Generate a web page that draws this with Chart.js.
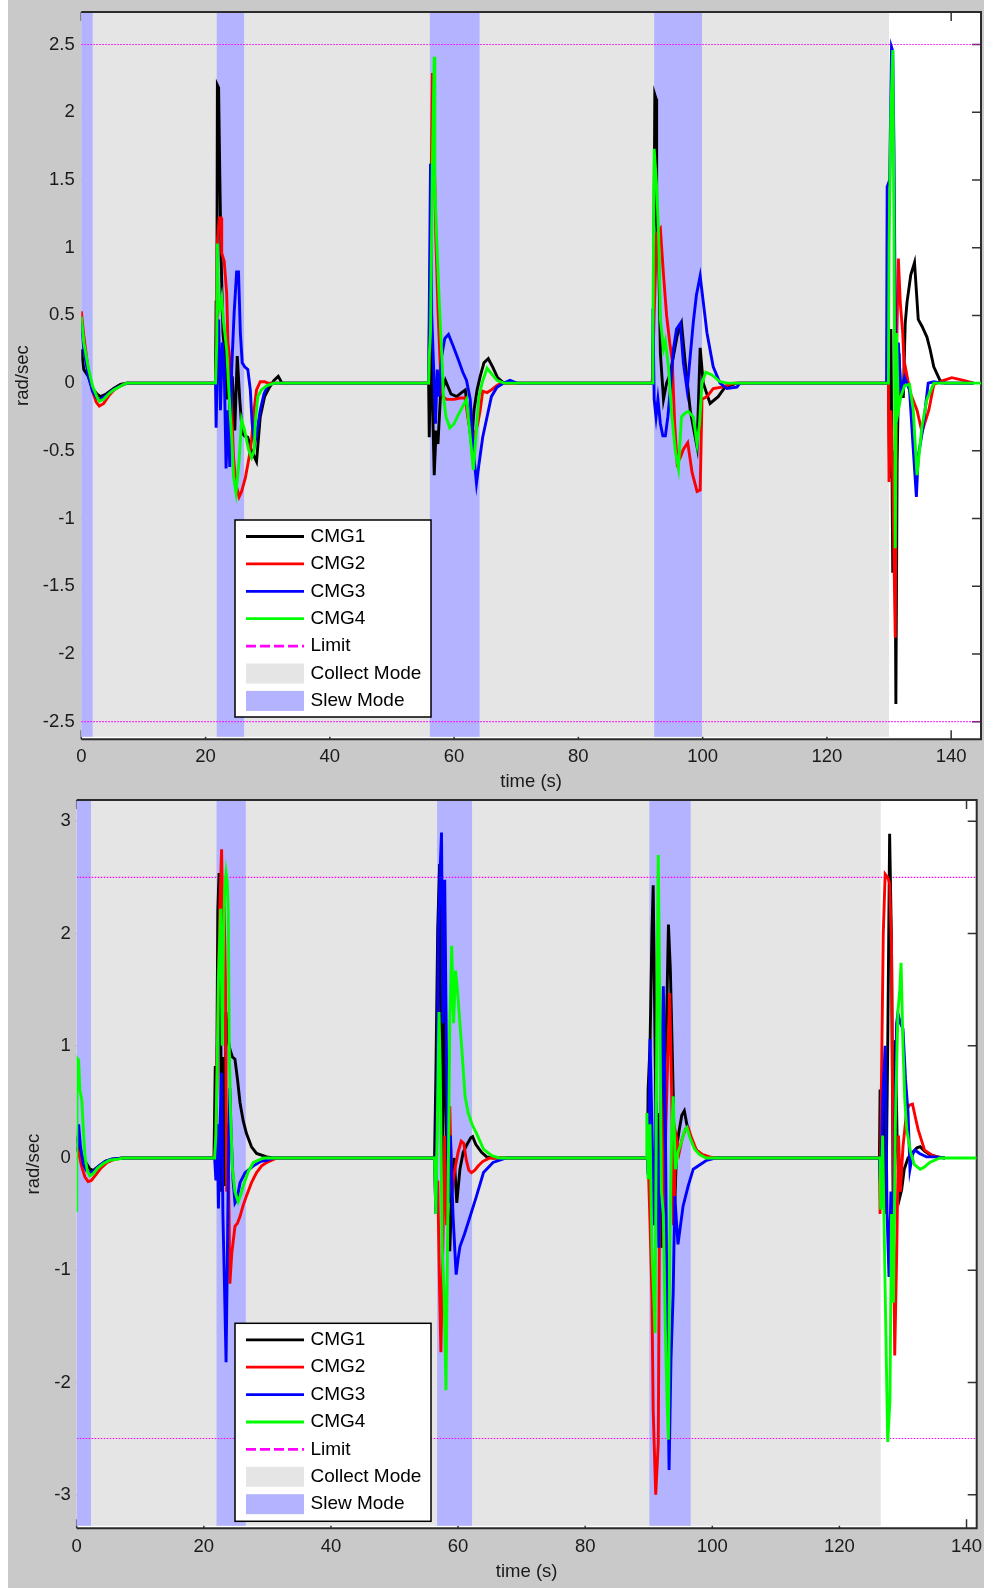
<!DOCTYPE html>
<html>
<head>
<meta charset="utf-8">
<script src="https://cdn.jsdelivr.net/npm/chart.js@4.4.1/dist/chart.umd.min.js"></script>
<style>
  html, body { margin: 0; padding: 0; background: #fff; }
  #fig { position: absolute; left: 8px; top: 0; width: 976px; height: 1588px; background: #c9c9c9; }
  #topChart { position: absolute; left: 0; top: 0; }
  #bottomChart { position: absolute; left: 0; top: 796px; }
</style>
</head>
<body>
<div id="fig">
  <canvas id="topChart" width="976" height="796"></canvas>
  <canvas id="bottomChart" width="976" height="792"></canvas>
</div>
<script>
// gimbal rates, [time s, rad/sec] pairs
const TOP_CMG1 = [
  [0,0.25],[0.4,0.1],[1.1,0.05],[1.8,-0.04],[2.5,-0.08],[3.1,-0.1],[4.0,-0.08],[5.2,-0.04],[6.3,-0.01],[7.3,0],
  [21.6,0],[21.7,0.61],[21.8,0.25],[21.9,2.2],[22.1,2.18],[22.3,1.5],[22.5,0.93],[22.8,0.37],[23.1,0.22],[23.4,-0.12],[23.7,0.1],[24.0,-0.3],[24.3,0.05],[24.7,-0.35],[25.1,0.2],[25.5,-0.12],[25.9,-0.37],[26.3,-0.39],[26.8,-0.4],[27.4,-0.5],[28.2,-0.58],[28.8,-0.25],[29.5,-0.1],[30.3,-0.03],[31.0,0.02],[31.7,0.05],[32.3,0],
  [55.9,0],[56.0,-0.4],[56.3,0.37],[56.5,-0.1],[56.8,-0.68],[57.1,-0.35],[57.4,-0.45],[57.8,-0.1],[58.6,0.02],[59.5,-0.08],[60.4,-0.1],[61.2,-0.07],[61.8,-0.05],[62.3,-0.25],[62.8,-0.45],[63.2,-0.2],[63.7,-0.05],[64.2,0.05],[64.8,0.15],[65.5,0.18],[66.2,0.12],[67.0,0.04],[68.0,0],
  [91.9,0],[92.1,0.5],[92.3,2.13],[92.5,2.1],[92.6,1.23],[92.9,1.0],[93.2,0.22],[93.7,-0.12],[94.2,0],[94.8,0.07],[95.3,0.2],[95.9,0.35],[96.6,0.44],[97.2,0.15],[98.0,-0.2],[98.6,-0.35],[99.1,-0.47],[99.6,0.26],[100.1,0],[101.2,-0.15],[102.5,-0.1],[103.6,-0.03],[105.5,0],
  [129.9,0],[130.1,-0.7],[130.3,0.4],[130.6,-1.4],[130.9,-0.5],[131.1,-2.37],[131.3,-0.6],[131.6,0.22],[131.9,-0.1],[132.3,-0.1],[132.6,0.44],[132.9,0.6],[133.5,0.8],[134.1,0.89],[134.7,0.47],[135.3,0.42],[136.1,0.34],[136.6,0.25],[137.2,0.12],[138.2,0.02],[139.0,0],[143.6,0],
];
const TOP_CMG2 = [
  [0,0.53],[0.4,0.35],[1.1,0.1],[1.8,-0.06],[2.4,-0.14],[2.9,-0.17],[3.6,-0.15],[4.5,-0.09],[5.3,-0.05],[6.3,-0.02],[7.3,0],
  [21.6,0],[21.8,0.3],[21.9,1.05],[22.2,1.22],[22.5,1.22],[22.6,0.96],[23.0,0.9],[23.4,0.66],[23.6,0.3],[23.9,0.18],[24.2,-0.2],[24.5,-0.55],[24.9,-0.75],[25.4,-0.84],[25.8,-0.8],[26.4,-0.7],[27.0,-0.55],[27.4,-0.42],[27.8,-0.2],[28.2,-0.05],[28.8,0.01],[29.5,0.01],[30.0,0],
  [55.9,0],[56.2,1.0],[56.5,2.29],[56.7,1.94],[57.05,1.09],[57.4,0.54],[57.8,0.1],[58.2,-0.1],[58.8,-0.12],[60.0,-0.12],[61.0,-0.11],[61.8,-0.11],[62.2,-0.25],[62.6,-0.35],[63.2,-0.4],[63.8,-0.3],[64.2,-0.2],[64.6,-0.06],[65.3,-0.07],[66.0,-0.05],[66.8,-0.02],[67.5,0],
  [91.9,0],[92.2,0.5],[92.6,1.1],[93.2,1.14],[93.7,0.8],[94.2,0.5],[94.7,0.3],[95.1,0.17],[95.5,-0.3],[95.9,-0.59],[96.4,-0.55],[96.9,-0.49],[97.6,-0.44],[98.3,-0.66],[99.1,-0.8],[99.6,-0.79],[99.9,-0.12],[100.7,-0.1],[101.7,-0.04],[103.1,-0.03],[105.0,0],
  [129.9,0],[130.0,-0.73],[130.3,-0.2],[130.6,-0.7],[131.0,-1.88],[131.2,0.2],[131.5,0.92],[131.8,0.6],[132.2,0.37],[132.5,0.05],[132.7,0.1],[133.4,-0.07],[134.5,-0.2],[135.3,-0.36],[136.4,-0.2],[137.2,-0.01],[138.8,0.02],[140.1,0.04],[142.0,0.02],[143.6,0],
];
const TOP_CMG3 = [
  [0,0.45],[0.4,0.25],[1.1,0.06],[1.8,-0.06],[2.5,-0.11],[3.0,-0.12],[3.8,-0.1],[4.8,-0.06],[5.8,-0.03],[7.3,0],
  [21.6,0],[21.7,-0.33],[21.9,0.2],[22.1,0.47],[22.4,-0.2],[22.7,0.3],[23.0,0.12],[23.3,-0.63],[23.6,-0.2],[23.9,-0.62],[24.2,0.1],[24.6,0.52],[25.0,0.82],[25.3,0.82],[25.6,0.37],[25.9,0.15],[26.3,0.12],[26.8,0.1],[27.2,-0.05],[27.5,-0.3],[27.9,-0.45],[28.3,-0.35],[28.8,-0.2],[29.4,-0.08],[30.0,-0.02],[30.9,0],
  [55.9,0],[56.0,0.53],[56.2,1.62],[56.4,0.5],[56.7,0.12],[57.0,-0.3],[57.3,0.1],[57.6,-0.1],[58.0,0.2],[58.5,0.33],[59.1,0.36],[59.8,0.28],[60.7,0.17],[61.4,0.08],[62.0,0.02],[62.6,-0.12],[63.0,-0.45],[63.6,-0.74],[64.0,-0.6],[64.6,-0.4],[65.3,-0.25],[66.0,-0.1],[66.9,-0.03],[68.0,0],[69.0,0.02],[70.1,0],
  [91.9,0],[92.0,0.55],[92.2,-0.12],[92.5,-0.25],[92.8,-0.12],[93.2,-0.3],[93.6,-0.39],[94.0,-0.39],[94.4,-0.25],[94.8,-0.05],[95.3,0.25],[95.8,0.4],[96.4,0.44],[96.9,0.15],[97.5,-0.05],[98.0,0.2],[98.5,0.45],[99.0,0.65],[99.6,0.79],[100.1,0.6],[100.7,0.37],[101.7,0.12],[102.8,0],[103.9,-0.04],[105.5,-0.03],[106.0,0],
  [129.6,0],[129.7,1.45],[130.1,1.5],[130.4,2.48],[130.6,2.45],[130.8,1.72],[131.0,0.5],[131.2,-0.3],[131.5,0.3],[131.9,-0.07],[132.5,0.04],[133.3,-0.05],[133.9,-0.49],[134.4,-0.84],[134.7,-0.54],[135.5,-0.32],[136.3,0],[137.2,0.01],[138.5,0],[143.6,0],
];
const TOP_CMG4 = [
  [0,0.49],[0.4,0.3],[1.1,0.12],[1.8,-0.02],[2.5,-0.1],[2.9,-0.135],[3.6,-0.12],[4.4,-0.08],[5.2,-0.05],[6.0,-0.03],[6.8,-0.01],[7.3,0],
  [21.6,0],[21.8,0.3],[21.9,1.03],[22.05,0.61],[22.3,0.55],[22.6,0.63],[22.9,0.45],[23.4,0.25],[23.8,-0.1],[24.2,-0.4],[24.5,-0.69],[24.9,-0.81],[25.4,-0.57],[25.8,-0.27],[26.3,-0.35],[26.9,-0.49],[27.4,-0.55],[27.8,-0.5],[28.0,-0.3],[28.4,-0.1],[29.0,-0.05],[29.8,-0.02],[31.0,0],
  [55.9,0],[56.0,0.2],[56.2,0.37],[56.5,1.6],[56.8,2.41],[56.9,1.45],[57.2,1.07],[57.6,0.61],[58.0,0.22],[58.3,-0.1],[58.7,-0.25],[59.3,-0.33],[60.0,-0.3],[60.6,-0.24],[61.3,-0.18],[62.0,-0.12],[62.5,-0.35],[63.1,-0.64],[63.5,-0.4],[64.0,-0.1],[64.5,0],[65.3,0.11],[66.0,0.07],[66.9,0.02],[68.0,0],
  [91.9,0],[92.0,0.4],[92.2,1.73],[92.6,1.45],[92.9,1.11],[93.2,0.47],[93.7,0.25],[94.0,0.31],[94.5,0.12],[95.0,-0.22],[95.6,-0.5],[96.1,-0.63],[96.6,-0.25],[97.2,-0.22],[97.7,-0.21],[98.5,-0.25],[99.1,-0.45],[99.5,-0.3],[99.9,0],[100.5,0.08],[101.5,0.06],[102.8,0.01],[104.0,0],
  [129.9,0],[130.0,1.0],[130.3,2.0],[130.6,2.46],[130.8,1.2],[131.0,-1.22],[131.2,0.37],[131.5,-0.2],[131.9,-0.1],[132.5,-0.02],[133.3,-0.01],[133.9,-0.2],[134.5,-0.68],[135.3,-0.32],[136.1,-0.12],[137.2,0],[145,0],
];

const BOT_CMG1 = [
  [0,0.19],[0.3,0.12],[0.8,0.02],[1.3,-0.03],[2.1,-0.1],[2.6,-0.11],[3.5,-0.07],[4.5,-0.03],[5.5,-0.01],[7.3,0],
  [21.6,0],[21.8,0.82],[22.0,0.4],[22.2,2.2],[22.4,2.54],[22.6,2.0],[22.8,-0.3],[23.0,0.9],[23.3,-0.25],[23.5,1.3],[23.7,1.1],[24.1,0.97],[24.5,0.9],[24.9,0.88],[25.3,0.7],[25.7,0.49],[26.2,0.33],[26.7,0.22],[27.5,0.1],[28.3,0.04],[29.9,0.01],[31.0,0],
  [56.3,0],[56.5,0.7],[56.8,2.05],[57.1,2.62],[57.3,1.0],[57.5,-0.3],[57.8,1.55],[58.1,0.4],[58.4,-0.5],[58.7,-0.83],[59.0,-0.3],[59.4,0],[59.8,-0.4],[60.3,-0.1],[60.8,0.05],[61.4,0.12],[62.0,0.18],[62.3,0.19],[62.8,0.12],[63.7,0.05],[64.5,0.01],[65.5,0],
  [89.8,0],[89.9,0.61],[90.2,1.0],[90.5,2.0],[90.7,2.43],[91.0,1.0],[91.3,-0.3],[91.7,0.4],[92.0,-0.8],[92.4,0.6],[92.8,1.2],[93.1,2.08],[93.4,1.68],[93.6,1.2],[93.85,0.58],[94.1,-0.4],[94.4,0.1],[94.8,0.25],[95.2,0.38],[95.6,0.42],[96.0,0.3],[96.5,0.2],[97.0,0.12],[97.5,0.07],[98.5,0.02],[99.6,0],
  [126.3,0],[126.4,0.61],[126.7,-0.2],[127.0,0.8],[127.3,-0.5],[127.6,0.98],[127.9,2.89],[128.2,1.89],[128.5,-0.8],[128.8,1.05],[129.1,0.1],[129.5,-0.35],[129.8,-0.28],[130.2,-0.1],[130.8,0],[131.5,0.05],[132.2,0.09],[132.7,0.1],[133.4,0.06],[134.2,0.03],[135.5,0.01],[136.6,0],
];
const BOT_CMG2 = [
  [0,0.1],[0.3,0.05],[0.8,-0.08],[1.3,-0.17],[1.8,-0.21],[2.3,-0.2],[3.0,-0.15],[3.8,-0.09],[4.8,-0.04],[6.0,-0.01],[7.3,0],
  [21.7,0],[21.9,0.2],[22.2,1.2],[22.5,2.22],[22.8,2.75],[23.0,2.0],[23.2,2.25],[23.4,1.59],[23.6,-0.3],[23.8,0.3],[24.1,-1.12],[24.4,-0.85],[24.9,-0.61],[25.3,-0.58],[25.7,-0.52],[26.2,-0.42],[26.7,-0.34],[27.5,-0.22],[28.3,-0.13],[29.1,-0.07],[29.9,-0.04],[31.5,0],
  [56.3,0],[56.5,-0.46],[56.8,-0.2],[57.1,-1.2],[57.3,-1.73],[57.6,-0.8],[57.9,0.2],[58.2,-0.6],[58.7,0.46],[59.0,-0.3],[59.5,-0.1],[60.0,0.05],[60.5,0.15],[60.9,0.13],[61.3,-0.02],[61.7,-0.11],[62.1,-0.13],[62.6,-0.11],[63.2,-0.07],[63.9,-0.03],[65.0,0],
  [89.8,0],[90.0,-0.2],[90.2,-0.58],[90.5,-1.24],[90.7,-2.25],[91.1,-3.0],[91.5,-2.54],[91.7,-0.5],[92.0,1.0],[92.3,-0.8],[92.7,0.3],[93.0,0.9],[93.3,1.47],[93.6,0.6],[93.9,-0.6],[94.3,0.2],[94.8,0.05],[95.3,0.18],[95.8,0.26],[96.2,0.27],[96.8,0.17],[97.5,0.07],[98.5,0.03],[99.6,0.01],[100.5,0],
  [126.3,0],[126.4,-0.5],[126.6,0.61],[126.9,2.0],[127.2,2.53],[127.6,2.5],[127.9,2.45],[128.2,1.89],[128.5,-0.5],[128.7,-1.76],[129.0,-0.88],[129.3,0.2],[129.6,-0.3],[130.0,0.1],[130.6,0.43],[131.0,0.47],[131.5,0.48],[132.0,0.35],[132.4,0.25],[133.4,0.07],[134.7,0.02],[136.0,0],
];
const BOT_CMG3 = [
  [0,0.05],[0.3,0.3],[0.6,0.1],[1.0,-0.05],[1.5,-0.11],[2.0,-0.13],[2.6,-0.12],[3.5,-0.07],[4.5,-0.03],[5.5,-0.01],[7.3,0],
  [21.7,0],[21.9,-0.2],[22.1,0.3],[22.3,-0.45],[22.5,0.2],[22.8,0.76],[23.0,-0.5],[23.2,-1.0],[23.5,-1.82],[23.7,-0.9],[23.9,0.1],[24.1,0.62],[24.3,0.2],[24.6,-0.2],[24.9,-0.4],[25.2,-0.37],[25.7,-0.22],[26.5,-0.13],[27.8,-0.07],[29.0,-0.03],[29.9,-0.02],[31.0,0],
  [56.3,0],[56.5,-0.5],[56.7,0.5],[56.9,2.07],[57.2,2.6],[57.4,2.9],[57.6,1.2],[57.9,2.48],[58.2,0.79],[58.5,-0.4],[58.8,0.2],[59.2,-0.5],[59.5,-0.83],[59.7,-1.04],[60.0,-0.9],[60.3,-0.79],[61.0,-0.68],[61.9,-0.52],[62.9,-0.34],[64.0,-0.13],[65.5,-0.04],[67.6,0],
  [89.8,0],[89.9,-0.15],[90.2,1.06],[90.5,0.3],[90.8,-0.6],[91.2,0.5],[91.6,-0.8],[92.0,0.6],[92.3,1.53],[92.6,0.4],[92.9,-1.5],[93.2,-2.78],[93.5,-1.8],[93.85,-1.2],[94.1,-0.34],[94.4,-0.6],[94.6,-0.77],[95.0,-0.6],[95.4,-0.43],[96.2,-0.25],[97.0,-0.1],[98.05,-0.06],[99.1,-0.02],[100.5,0],
  [126.3,0],[126.5,-0.3],[126.8,0.5],[127.2,1.0],[127.5,-0.5],[127.8,-1.06],[128.1,-0.3],[128.4,-1.06],[128.7,0.2],[129.0,1.2],[129.2,1.29],[129.6,1.2],[130.0,1.15],[130.4,0.7],[130.8,0.4],[131.1,-0.1],[131.5,0.03],[131.9,0.07],[132.6,0.04],[133.7,0.01],[135.0,0.01],[136.6,0],
];
const BOT_CMG4 = [
  [0,-0.48],[0.05,0.89],[0.3,0.87],[0.5,0.6],[0.8,0.52],[1.0,0.3],[1.3,0.01],[1.7,-0.12],[2.1,-0.16],[2.6,-0.14],[3.3,-0.09],[4.2,-0.05],[5.2,-0.02],[6.5,-0.01],[7.3,0],
  [21.7,0],[21.9,0.2],[22.1,0.8],[22.3,1.59],[22.65,2.22],[22.9,1.0],[23.1,2.0],[23.3,2.4],[23.5,2.54],[23.7,2.45],[23.85,2.19],[24.0,1.0],[24.2,0.4],[24.5,-0.1],[24.9,-0.3],[25.4,-0.39],[25.8,-0.33],[26.2,-0.25],[27.0,-0.12],[27.8,-0.04],[29.4,0],
  [56.3,0],[56.5,-0.5],[56.7,0.16],[57.0,1.3],[57.2,0.8],[57.5,-0.8],[57.8,-1.2],[58.1,-2.07],[58.4,-0.5],[58.7,1.2],[59.0,1.89],[59.3,1.2],[59.6,1.67],[59.9,1.5],[60.4,1.12],[60.8,0.8],[61.1,0.55],[61.6,0.4],[62.2,0.3],[62.9,0.22],[64.0,0.08],[65.3,0.02],[66.5,0],
  [89.6,0],[89.7,0.4],[89.9,-0.19],[90.2,0.3],[90.5,-0.8],[91.0,-1.56],[91.3,1.5],[91.5,2.7],[91.7,1.6],[92.0,-0.3],[92.3,-0.5],[92.6,-1.5],[92.9,-2.2],[93.1,-2.51],[93.3,-0.8],[93.6,0.2],[93.85,0.55],[94.2,-0.1],[94.6,0.05],[95.2,0.15],[95.6,0.24],[96.0,0.27],[96.5,0.18],[97.2,0.08],[98.0,0.03],[99.0,0],
  [126.4,0],[126.5,-0.46],[126.8,0.2],[127.2,-1.18],[127.6,-2.53],[127.95,-2.16],[128.2,-0.5],[128.5,-1.29],[128.8,0.3],[129.2,1.3],[129.5,1.5],[129.7,1.74],[130.0,1.0],[130.3,0.5],[130.6,0.25],[131.2,0.05],[131.8,-0.06],[132.7,-0.1],[133.4,-0.08],[134.2,-0.04],[135.8,0],[141.6,0],
];

// mode windows, [start, end] in seconds
const TOP_COLLECT = [[0, 130]];
const TOP_SLEW = [[0, 1.83], [21.8, 26.2], [56.1, 64.1], [92.2, 99.9]];
const BOT_COLLECT = [[0, 126.5]];
const BOT_SLEW = [[0, 2.25], [22.0, 26.6], [56.7, 62.2], [90.1, 96.6]];

const RATE_LIMIT = 2.5;
const X_TICKS = [0, 20, 40, 60, 80, 100, 120, 140];
const TOP_Y_TICKS = [-2.5, -2, -1.5, -1, -0.5, 0, 0.5, 1, 1.5, 2, 2.5];
const BOT_Y_TICKS = [-3, -2, -1, 0, 1, 2, 3];

const SERIES_LABELS = ['CMG1', 'CMG2', 'CMG3', 'CMG4'];
const SERIES_COLORS = ['#000000', '#ff0000', '#0000ff', '#00ff00'];
const LIMIT_COLOR = '#ff00ff';
const COLLECT_COLOR = '#e5e5e5';
const SLEW_COLOR = '#b3b3ff';
const PATCH_ITEMS = [['Collect Mode', COLLECT_COLOR], ['Slew Mode', SLEW_COLOR]];

const FONT = '"Liberation Sans", Arial, Helvetica, sans-serif';
const FONT_SIZE = 18.5;
const LEGEND_FONT_SIZE = 19;
const LINE_WIDTH = 2.9;
const TICK_LEN = 9;

Chart.defaults.font.family = FONT;
Chart.defaults.font.size = FONT_SIZE;
Chart.defaults.color = '#1a1a1a';

const toXY = (pairs) => pairs.map(([x, y]) => ({ x, y }));

function drawLegend(ctx, chart, box) {
  ctx.save();
  ctx.fillStyle = '#fff';
  ctx.fillRect(box.x, box.y, box.w, box.h);
  ctx.strokeStyle = '#000';
  ctx.lineWidth = 1.5;
  ctx.strokeRect(box.x, box.y, box.w, box.h);
  ctx.font = `${LEGEND_FONT_SIZE}px ${FONT}`;
  ctx.textBaseline = 'middle';
  ctx.textAlign = 'left';

  const rows = chart.data.datasets.filter((d) => d.label);
  const x0 = box.x + 11, x1 = box.x + 69, tx = box.x + 75.5;
  let cy = box.y + 16.5;
  rows.forEach((d) => {
    ctx.strokeStyle = d.borderColor;
    ctx.lineWidth = 2.8;
    ctx.setLineDash(d.legendDash || []);
    ctx.beginPath();
    ctx.moveTo(x0, cy);
    ctx.lineTo(x1, cy);
    ctx.stroke();
    ctx.setLineDash([]);
    ctx.fillStyle = '#000';
    ctx.fillText(d.label, tx, cy);
    cy += 27.4;
  });
  PATCH_ITEMS.forEach(([label, color]) => {
    ctx.fillStyle = color;
    ctx.fillRect(x0, cy - 10, x1 - x0, 20);
    ctx.fillStyle = '#000';
    ctx.fillText(label, tx, cy);
    cy += 27.4;
  });
  ctx.restore();
}

// MATLAB-like axes: inward ticks, mode patches, box, legend inside the plot
const matlabAxes = {
  id: 'matlabAxes',
  beforeDatasetsDraw(chart, _args, opts) {
    const { ctx, chartArea: a, scales: { x, y } } = chart;
    ctx.save();
    ctx.fillStyle = '#fff';
    ctx.fillRect(a.left, a.top, a.right - a.left, a.bottom - a.top);

    ctx.strokeStyle = '#333';
    ctx.lineWidth = 1.5;
    ctx.beginPath();
    x.ticks.forEach((t) => {
      const px = x.getPixelForValue(t.value);
      ctx.moveTo(px, a.bottom); ctx.lineTo(px, a.bottom - TICK_LEN);
      ctx.moveTo(px, a.top); ctx.lineTo(px, a.top + TICK_LEN);
    });
    y.ticks.forEach((t) => {
      const py = y.getPixelForValue(t.value);
      ctx.moveTo(a.left, py); ctx.lineTo(a.left + TICK_LEN, py);
      ctx.moveTo(a.right, py); ctx.lineTo(a.right - TICK_LEN, py);
    });
    ctx.stroke();

    const fillSpans = (spans, color) => {
      ctx.fillStyle = color;
      spans.forEach(([s, e]) => {
        const px0 = x.getPixelForValue(s);
        const px1 = x.getPixelForValue(e);
        ctx.fillRect(px0, a.top + 1, px1 - px0, a.bottom - a.top - 3.5);
      });
    };
    fillSpans(opts.collect, COLLECT_COLOR);
    fillSpans(opts.slew, SLEW_COLOR);

    ctx.strokeStyle = '#2b2b2b';
    ctx.lineWidth = 2;
    ctx.beginPath();
    ctx.moveTo(a.left, a.top);
    ctx.lineTo(a.right, a.top);
    ctx.lineTo(a.right, a.bottom);
    ctx.lineTo(a.left, a.bottom);
    ctx.stroke();
    ctx.restore();
  },
  afterDatasetsDraw(chart, _args, opts) {
    drawLegend(chart.ctx, chart, opts.legend);
  },
};

function renderPanel(canvasId, p) {
  const el = document.getElementById(canvasId);
  const lines = SERIES_LABELS.map((label, i) => ({
    label,
    data: toXY(p.series[i]),
    borderColor: SERIES_COLORS[i],
    borderWidth: LINE_WIDTH,
    borderJoinStyle: 'miter',
    pointRadius: 0,
    order: SERIES_LABELS.length - i,
  }));
  const limit = (v, label) => ({
    label,
    data: [{ x: 0, y: v }, { x: p.xMax, y: v }],
    borderColor: LIMIT_COLOR,
    borderWidth: 1.2,
    borderDash: [1.5, 1.5],
    legendDash: [10, 4],
    pointRadius: 0,
    order: 5,
  });

  return new Chart(el, {
    type: 'line',
    data: { datasets: [...lines, limit(RATE_LIMIT, 'Limit'), limit(-RATE_LIMIT, '')] },
    options: {
      responsive: false,
      animation: false,
      events: [],
      layout: { padding: { top: p.padTop, right: p.padRight, bottom: 0, left: 0 } },
      plugins: {
        legend: { display: false },
        tooltip: { enabled: false },
        matlabAxes: { collect: p.collect, slew: p.slew, legend: p.legend },
      },
      scales: {
        x: {
          type: 'linear',
          min: 0,
          max: p.xMax,
          grid: { display: false, drawTicks: false },
          border: { display: false },
          ticks: { padding: p.xTickPad, autoSkip: false, maxRotation: 0, callback: (v) => String(v) },
          afterBuildTicks: (s) => { s.ticks = X_TICKS.map((value) => ({ value })); },
          afterFit: (s) => { s.height = p.xAxisHeight; s.paddingLeft = 0; s.paddingRight = 0; },
          title: { display: true, text: 'time (s)', padding: { top: 0, bottom: p.xTitlePad } },
        },
        y: {
          min: p.yMin,
          max: p.yMax,
          grid: { display: false, drawTicks: false },
          border: { display: false },
          ticks: { padding: p.yTickPad, callback: (v) => String(v) },
          afterBuildTicks: (s) => { s.ticks = p.yTicks.map((value) => ({ value })); },
          afterFit: (s) => { s.width = p.yAxisWidth; s.paddingTop = 0; s.paddingBottom = 0; },
          title: { display: true, text: 'rad/sec', padding: { top: p.yTitlePad, bottom: 0 } },
        },
      },
    },
    plugins: [matlabAxes],
  });
}

renderPanel('topChart', {
  series: [TOP_CMG1, TOP_CMG2, TOP_CMG3, TOP_CMG4],
  collect: TOP_COLLECT, slew: TOP_SLEW,
  xMax: 144.8, yMin: -2.63, yMax: 2.74, yTicks: TOP_Y_TICKS,
  padTop: 12, padRight: 3, yAxisWidth: 73.3, xAxisHeight: 56.7,
  xTickPad: 6.3, yTickPad: 6.6, xTitlePad: 2.9, yTitlePad: 3.4,
  legend: { x: 227, y: 520, w: 196, h: 197 },
});

renderPanel('bottomChart', {
  series: [BOT_CMG1, BOT_CMG2, BOT_CMG3, BOT_CMG4],
  collect: BOT_COLLECT, slew: BOT_SLEW,
  xMax: 141.6, yMin: -3.3, yMax: 3.19, yTicks: BOT_Y_TICKS,
  padTop: 4, padRight: 7.3, yAxisWidth: 68.7, xAxisHeight: 59.7,
  xTickPad: 7.3, yTickPad: 6, xTitlePad: 4.9, yTitlePad: 14.7,
  legend: { x: 227, y: 527.3, w: 196, h: 198 },
});
</script>
</body>
</html>
